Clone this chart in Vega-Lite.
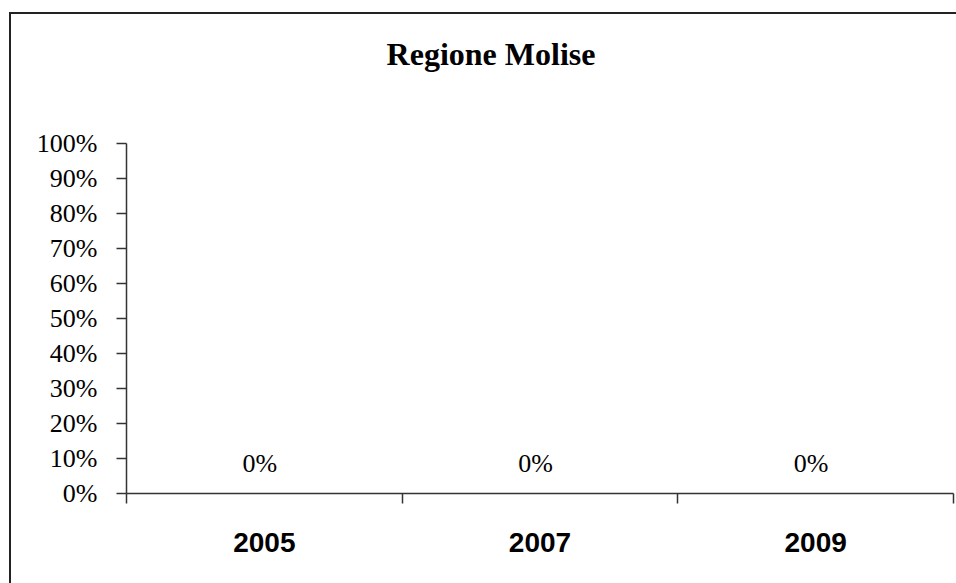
{
  "$schema": "https://vega.github.io/schema/vega-lite/v6.json",
  "autosize": {"type": "none"},
  "width": 962,
  "height": 580,
  "padding": {"left": 10, "top": 13, "right": 0, "bottom": 0},
  "background": "white",
  "config": {
    "view": {"stroke": "#222222", "strokeWidth": 2, "fill": "white"},
    "font": "Liberation Serif"
  },
  "title": {
    "text": "Regione Molise",
    "font": "Liberation Serif",
    "fontSize": 32,
    "fontWeight": "bold",
    "color": "black",
    "anchor": "middle",
    "baseline": "alphabetic",
    "offset": -84
  },
  "data": {
    "values": [
      {"anno": "2005", "valore": 0},
      {"anno": "2007", "valore": 0},
      {"anno": "2009", "valore": 0}
    ]
  },
  "encoding": {
    "x": {
      "field": "anno",
      "type": "nominal",
      "sort": null,
      "scale": {"type": "band", "domain": ["2005", "2007", "2009"], "range": [116, 943], "paddingInner": 0, "paddingOuter": 0},
      "axis": {
        "title": null,
        "orient": "bottom",
        "offset": -100,
        "labelAngle": 0,
        "labelFont": "Liberation Sans",
        "labelFontSize": 28,
        "labelFontWeight": "bold",
        "labelColor": "black",
        "labelPadding": 26,
        "tickBand": "extent",
        "tickSize": 10,
        "tickColor": "#333333",
        "tickWidth": 1.5,
        "domainColor": "#333333",
        "domainWidth": 1.5,
        "grid": false
      }
    },
    "y": {
      "field": "valore",
      "type": "quantitative",
      "scale": {"domain": [0, 1], "range": [480, 130], "nice": false, "zero": true},
      "axis": {
        "title": null,
        "orient": "left",
        "offset": -116,
        "values": [0, 0.1, 0.2, 0.3, 0.4, 0.5, 0.6, 0.7, 0.8, 0.9, 1],
        "format": ".0%",
        "labelFont": "Liberation Serif",
        "labelFontSize": 26,
        "labelColor": "black",
        "labelPadding": 19,
        "tickSize": 10,
        "tickColor": "#333333",
        "tickWidth": 1.5,
        "domainColor": "#333333",
        "domainWidth": 1.5,
        "grid": false
      }
    }
  },
  "layer": [
    {"mark": {"type": "bar", "color": "#9999ff", "width": {"band": 0.6}}},
    {
      "mark": {"type": "text", "font": "Liberation Serif", "fontSize": 26, "baseline": "alphabetic", "dy": -21, "dx": -4, "color": "black"},
      "encoding": {"text": {"field": "valore", "type": "quantitative", "format": ".0%"}}
    }
  ]
}
